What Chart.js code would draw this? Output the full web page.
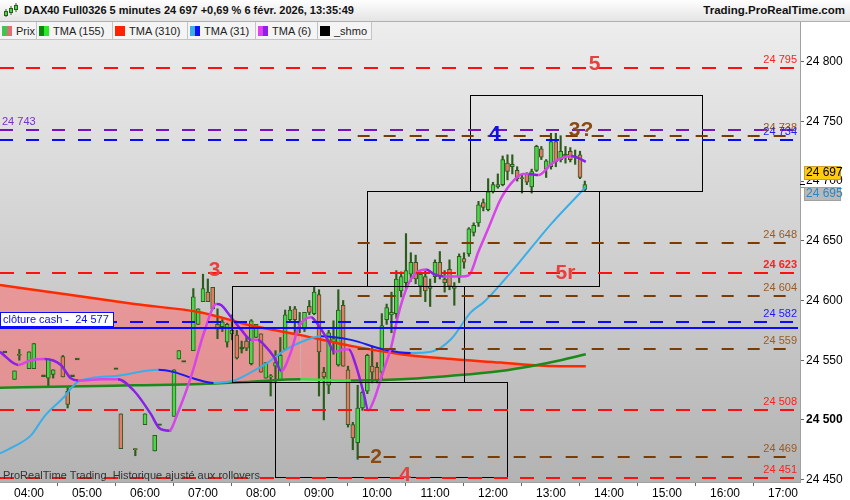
<!DOCTYPE html>
<html lang="fr">
<head>
<meta charset="utf-8">
<title>DAX40 Full0326 5 minutes</title>
<script src="https://cdn.jsdelivr.net/npm/chart.js@4.4.1/dist/chart.umd.min.js"></script>
<style>
  html, body { margin: 0; padding: 0; background: #fff; }
  #wrap { position: relative; width: 850px; height: 500px; overflow: hidden;
          font-family: 'Liberation Sans', Arial, sans-serif; }
  #chart { position: absolute; left: 0; top: 0; }
  #header { position: absolute; left: 0; top: 0; width: 850px; height: 21px;
            background: linear-gradient(#fefefe, #e4e4e4); border-bottom: 1px solid #b0b0b0; }
  #icon { position: absolute; left: 4px; top: 3px; }
  #title { position: absolute; left: 24px; top: 4px; font-size: 11px; font-weight: bold; color: #111; white-space: nowrap; }
  #site { position: absolute; right: 5px; top: 4px; font-size: 11.5px; font-weight: bold; color: #111; }
  #legend { position: absolute; left: 0; top: 22px; height: 18px; display: flex; }
  .item { box-sizing: border-box; height: 18px; border-right: 1px solid #c4c4c4; border-bottom: 1px solid #c4c4c4;
          background: #f4f4f4; font-size: 11px; color: #222; display: flex; align-items: center; white-space: nowrap; }
  .sw { display: inline-flex; width: 10px; height: 10px; margin: 0 4px 0 2px; }
  .sw i { flex: 1; }
  #note { position: absolute; left: 3px; top: 469px; font-size: 11px; color: #333; white-space: nowrap; }
</style>
</head>
<body>
<div id="wrap">
  <canvas id="chart" width="850" height="500"></canvas>
  <div id="header">
    <svg id="icon" width="14" height="15">
      <line x1="2" y1="6" x2="2" y2="14" stroke="#2b5c1c"/><rect x="0.5" y="8.5" width="3" height="4" fill="#49d649" stroke="#2b5c1c"/>
      <line x1="7" y1="3" x2="7" y2="12" stroke="#2b5c1c"/><rect x="5.5" y="5.5" width="3" height="4" fill="#49d649" stroke="#2b5c1c"/>
      <line x1="12" y1="0" x2="12" y2="9" stroke="#2b5c1c"/><rect x="10.5" y="2.5" width="3" height="4" fill="#49d649" stroke="#2b5c1c"/>
    </svg>
    <div id="title">DAX40 Full0326 5 minutes 24 697 +0,69 % 6 févr. 2026, 13:35:49</div>
    <div id="site">Trading.ProRealTime.com</div>
  </div>
  <div id="legend">
    <div class="item" style="width:37px"><span class="sw"><i style="background:#3cc84a"></i><i style="background:#e07070"></i></span>Prix</div>
    <div class="item" style="width:76px"><span class="sw"><i style="background:#0a8a0a"></i><i style="background:#2ee82e"></i></span>TMA (155)</div>
    <div class="item" style="width:75px"><span class="sw"><i style="background:#ff2200"></i><i style="background:#ff2200"></i></span>TMA (310)</div>
    <div class="item" style="width:68px"><span class="sw"><i style="background:#3aaee8"></i><i style="background:#1010ff"></i></span>TMA (31)</div>
    <div class="item" style="width:62px"><span class="sw"><i style="background:#e040f0"></i><i style="background:#9020e8"></i></span>TMA (6)</div>
    <div class="item" style="width:54px"><span class="sw"><i style="background:#000"></i><i style="background:#000"></i></span>_shmo</div>
  </div>
  <div id="note">ProRealTime Trading&nbsp; Historique ajusté aux rollovers</div>
</div>

<script>
// 5 minute candles
const candleTimes = ['03:35', '03:45', '03:50', '04:00', '04:05', '04:15', '04:20', '04:25', '04:35', '04:40',
    '04:45', '04:50', '05:30', '05:35', '05:50', '06:00', '06:10', '06:15', '06:25', '06:30',
    '06:35', '06:40', '06:50', '06:55', '07:00', '07:05', '07:10', '07:15', '07:20', '07:25',
    '07:30', '07:35', '07:40', '07:45', '07:50', '07:55', '08:00', '08:05', '08:10', '08:15',
    '08:20', '08:25', '08:30', '08:35', '08:40', '08:45', '08:50', '08:55', '09:00', '09:05',
    '09:10', '09:15', '09:20', '09:25', '09:30', '09:35', '09:40', '09:45', '09:50', '09:55',
    '10:00', '10:05', '10:10', '10:15', '10:20', '10:25', '10:30', '10:35', '10:40', '10:45',
    '10:50', '10:55', '11:00', '11:05', '11:10', '11:15', '11:20', '11:25', '11:30', '11:35',
    '11:40', '11:45', '11:50', '11:55', '12:00', '12:05', '12:10', '12:15', '12:20', '12:25',
    '12:30', '12:35', '12:40', '12:45', '12:50', '12:55', '13:00', '13:05', '13:10', '13:15',
    '13:20', '13:25', '13:30', '13:35'];
const opens = [24557, 24534, 24555, 24543, 24543, 24537, 24535, 24538, 24553, 24524,
    24537, 24551, 24543, 24505, 24476, 24496, 24474, 24496, 24491, 24503,
    24551, 24549, 24558, 24580, 24599, 24607, 24611, 24580, 24578, 24565,
    24572, 24571, 24560, 24566, 24547, 24569, 24572, 24535, 24536, 24545,
    24533, 24559, 24584, 24593, 24580, 24576, 24595, 24589, 24605, 24540,
    24529, 24565, 24546, 24596, 24542, 24496, 24481, 24510, 24524, 24545,
    24544, 24540, 24584, 24588, 24589, 24608, 24615, 24622, 24632, 24612,
    24620, 24612, 24620, 24632, 24618, 24626, 24612, 24620, 24635, 24639,
    24657, 24665, 24682, 24676, 24691, 24695, 24697, 24715, 24712, 24709,
    24703, 24706, 24695, 24709, 24727, 24710, 24712, 24733, 24718, 24722,
    24725, 24720, 24722, 24693];
const highs = [24557, 24541, 24559, 24557, 24564, 24537, 24551, 24542, 24554, 24527,
    24537, 24551, 24543, 24505, 24476, 24505, 24487, 24496, 24491, 24542,
    24558, 24549, 24610, 24593, 24622, 24618, 24611, 24593, 24584, 24581,
    24588, 24575, 24566, 24570, 24584, 24580, 24572, 24548, 24538, 24558,
    24569, 24592, 24595, 24595, 24590, 24590, 24600, 24611, 24609, 24544,
    24575, 24583, 24609, 24600, 24545, 24498, 24529, 24524, 24555, 24562,
    24548, 24589, 24597, 24607, 24625, 24624, 24656, 24640, 24638, 24624,
    24625, 24618, 24634, 24641, 24625, 24634, 24615, 24639, 24640, 24661,
    24665, 24683, 24685, 24702, 24699, 24706, 24721, 24722, 24722, 24712,
    24706, 24707, 24710, 24730, 24729, 24718, 24740, 24740, 24738, 24729,
    24728, 24726, 24725, 24700];
const lows = [24557, 24534, 24550, 24543, 24543, 24537, 24527, 24535, 24536, 24510,
    24537, 24551, 24543, 24476, 24470, 24496, 24474, 24496, 24491, 24503,
    24551, 24549, 24558, 24580, 24599, 24599, 24593, 24568, 24574, 24561,
    24567, 24551, 24556, 24558, 24546, 24569, 24540, 24535, 24520, 24531,
    24533, 24558, 24582, 24573, 24573, 24574, 24588, 24588, 24520, 24500,
    24522, 24555, 24545, 24545, 24494, 24475, 24467, 24508, 24522, 24531,
    24531, 24533, 24580, 24573, 24585, 24603, 24610, 24616, 24614, 24605,
    24599, 24595, 24615, 24618, 24607, 24609, 24596, 24615, 24627, 24637,
    24654, 24662, 24675, 24675, 24690, 24694, 24696, 24701, 24706, 24700,
    24690, 24697, 24690, 24708, 24718, 24703, 24710, 24712, 24716, 24715,
    24716, 24714, 24702, 24692];
const closes = [24557, 24541, 24554, 24557, 24564, 24537, 24551, 24542, 24536, 24513,
    24537, 24551, 24543, 24476, 24475, 24505, 24487, 24496, 24491, 24542,
    24558, 24549, 24603, 24593, 24610, 24599, 24593, 24576, 24582, 24580,
    24575, 24552, 24560, 24560, 24583, 24580, 24540, 24548, 24537, 24548,
    24554, 24588, 24592, 24584, 24582, 24590, 24590, 24607, 24557, 24536,
    24573, 24568, 24592, 24545, 24496, 24485, 24510, 24523, 24554, 24540,
    24533, 24579, 24594, 24590, 24618, 24620, 24625, 24632, 24618, 24622,
    24608, 24610, 24632, 24620, 24615, 24612, 24610, 24637, 24632, 24660,
    24663, 24680, 24678, 24691, 24697, 24697, 24718, 24708, 24714, 24702,
    24702, 24699, 24708, 24729, 24720, 24717, 24733, 24716, 24725, 24722,
    24718, 24721, 24703, 24697];

// Moving averages TMA (155) and TMA (310), sampled at the same times
const slowTimes = ['03:30', '04:40', '05:49', '06:58', '07:50', '08:41', '09:33', '10:25', '11:17', '12:08', '12:39', '13:10', '13:36'];
const tma155 = [24527, 24528, 24529, 24530, 24532, 24534, 24533, 24534, 24537, 24541, 24545, 24550, 24555];
const tma310 = [24613, 24605, 24597, 24590, 24579, 24571, 24562, 24555, 24551, 24548, 24546, 24545, 24545];

// TMA (31)
const tma31Times = ['03:30', '03:45', '04:02', '04:16', '04:36', '04:49', '05:04', '05:32', '06:14', '06:30', '06:53', '07:11', '07:32', '07:50',
    '08:07', '08:24', '08:41', '09:02', '09:33', '10:07', '10:35', '10:56', '11:17', '11:37', '11:51', '12:19', '13:00', '13:36'];
const tma31 = [24472, 24478, 24487, 24503, 24519, 24531, 24535, 24537, 24542, 24540, 24534, 24531, 24533, 24540,
    24548, 24558, 24565, 24570, 24567, 24559, 24556, 24557, 24568, 24590, 24599, 24624, 24664, 24695];

// TMA (6)
const tma6Times = ['03:30', '03:49', '04:02', '04:16', '04:33', '04:43', '04:51', '05:15', '05:32', '05:49', '06:06', '06:15', '06:25', '06:34',
    '06:48', '07:01', '07:14', '07:19', '07:29', '07:39', '07:50', '07:57', '08:03', '08:14', '08:21', '08:31', '08:39', '08:52',
    '08:57', '09:09', '09:16', '09:26', '09:31', '09:38', '09:46', '09:51', '09:57', '10:07', '10:15', '10:22', '10:32', '10:42',
    '10:51', '10:59', '11:09', '11:27', '11:35', '11:45', '11:55', '12:08', '12:22', '12:31', '12:37', '12:47', '13:00', '13:10',
    '13:21', '13:29', '13:36'];
const tma6 = [24557, 24546, 24550, 24551, 24546, 24535, 24533, 24534, 24534, 24524, 24505, 24493, 24491, 24506,
    24537, 24573, 24597, 24596, 24586, 24576, 24567, 24567, 24563, 24552, 24541, 24557, 24578, 24586,
    24582, 24567, 24557, 24559, 24559, 24546, 24523, 24508, 24517, 24542, 24562, 24588, 24613, 24624,
    24626, 24622, 24620, 24620, 24621, 24641, 24660, 24685, 24701, 24706, 24706, 24705, 24714, 24719,
    24721, 24719, 24716];

// Horizontal levels: value, kind, start time
const levelValues = [24795, 24743, 24738, 24734, 24648, 24623, 24604, 24582, 24577, 24559, 24508, 24469, 24451];
const levelKinds = ['red', 'purple', 'brown', 'blue', 'brown', 'red', 'brown', 'blue', 'cash', 'brown', 'red', 'brown', 'red'];
const levelStarts = ['03:30', '03:30', '09:40', '03:30', '09:40', '03:30', '09:40', '03:30', '03:30', '09:40', '03:30', '09:40', '03:30'];

// Rectangles drawn on the chart
const boxStarts = ['11:36', '09:50', '07:30', '08:15'];
const boxEnds = ['15:36', '13:50', '11:30', '12:15'];
const boxTops = [24772, 24692, 24612, 24532];
const boxBottoms = [24692, 24612, 24532, 24452];

// Wave labels
const waveTexts = ['5', '3', '4', '3?', '5r', '2', '4'];
const waveTimes = ['13:45', '07:12', '12:02', '13:31', '13:15', '09:59', '10:29'];
const wavePrices = [24798, 24625, 24739, 24743, 24623, 24469, 24454];
const waveKinds = ['red', 'red', 'blue', 'brown', 'red', 'brown', 'red'];

// Axes
const hourTicks = ['04:00', '05:00', '06:00', '07:00', '08:00', '09:00', '10:00', '11:00', '12:00', '13:00', '14:00', '15:00', '16:00', '17:00'];
const priceTicks = [24450, 24500, 24550, 24600, 24650, 24700, 24750, 24800];
const lastPrice = 24697;
const lastTma31 = 24695;

const FONT = "'Liberation Sans', Arial, sans-serif";

const levelStyles = {
    red: { line: '#ff1010', text: '#ff2020', dash: [14, 12] },
    brown: { line: '#7a3c00', text: '#9a5a22', dash: [12, 14] },
    blue: { line: '#0a0aff', text: '#1a1aff', dash: [13, 13] },
    purple: { line: '#7a10c8', text: '#7a30c8', dash: [13, 13] },
    cash: { line: '#0a0aff', text: '#0a0aff', dash: [] }
};
const waveColours = { red: '#e8403e', blue: '#1010e0', brown: '#8a4a12' };


function toMinutes(t) {
    const [h, m] = t.split(':').map(Number);
    return h * 60 + m;
}

function formatPrice(v) {
    return String(v).replace(/\B(?=(\d{3})+(?!\d))/g, ' ');
}

function series(times, values) {
    return times.map((t, i) => ({ x: toMinutes(t), y: values[i] }));
}

// Colour a line by slope: one colour rising, another falling
function slopeColour(up, down) {
    return ctx => ctx.p1.parsed.y >= ctx.p0.parsed.y ? up : down;
}


// Grey gradient behind the plot, white elsewhere
const backgroundPlugin = {
    id: 'background',
    beforeDraw(chart) {
        const { ctx, chartArea: a } = chart;
        ctx.save();
        ctx.fillStyle = '#ffffff';
        ctx.fillRect(0, 0, chart.width, chart.height);
        const g = ctx.createLinearGradient(0, a.top, 0, a.bottom);
        g.addColorStop(0, '#ededed');
        g.addColorStop(1, '#b3b3b3');
        ctx.fillStyle = g;
        ctx.fillRect(a.left, a.top, a.right - a.left, a.bottom - a.top);
        ctx.restore();
    }
};

// Levels, boxes and wave labels on top of the series
const drawingsPlugin = {
    id: 'drawings',
    afterDatasetsDraw(chart) {
        const { ctx, chartArea: a } = chart;
        const x = chart.scales.x;
        const y = chart.scales.y;
        ctx.save();
        ctx.beginPath();
        ctx.rect(a.left, a.top, a.right - a.left, a.bottom - a.top);
        ctx.clip();

        // boxes
        ctx.strokeStyle = '#000';
        ctx.lineWidth = 1;
        for (let i = 0; i < boxStarts.length; i++) {
            const x0 = Math.round(x.getPixelForValue(toMinutes(boxStarts[i]))) + 0.5;
            const x1 = Math.round(x.getPixelForValue(toMinutes(boxEnds[i]))) + 0.5;
            const y0 = Math.round(y.getPixelForValue(boxTops[i])) + 0.5;
            const y1 = Math.round(y.getPixelForValue(boxBottoms[i])) + 0.5;
            ctx.strokeRect(x0, y0, x1 - x0, y1 - y0);
        }

        // horizontal levels
        ctx.lineWidth = 2;
        ctx.font = '11px ' + FONT;
        ctx.textBaseline = 'middle';
        for (let i = 0; i < levelValues.length; i++) {
            const st = levelStyles[levelKinds[i]];
            const py = Math.round(y.getPixelForValue(levelValues[i]));
            const px = x.getPixelForValue(toMinutes(levelStarts[i]));
            ctx.strokeStyle = st.line;
            ctx.setLineDash(st.dash);
            ctx.beginPath();
            ctx.moveTo(Math.max(px, a.left), py);
            ctx.lineTo(a.right - 2, py);
            ctx.stroke();
            ctx.setLineDash([]);

            const label = formatPrice(levelValues[i]);
            if (levelKinds[i] === 'purple') {
                ctx.fillStyle = st.text;
                ctx.textAlign = 'left';
                ctx.fillText(label, a.left + 2, py - 8);
            } else if (levelKinds[i] === 'cash') {
                // boxed label at the left edge
                ctx.fillStyle = '#ffffff';
                ctx.fillRect(a.left + 0.5, py - 15.5, 113, 14);
                ctx.strokeStyle = st.line;
                ctx.lineWidth = 1;
                ctx.strokeRect(a.left + 0.5, py - 15.5, 113, 14);
                ctx.lineWidth = 2;
                ctx.fillStyle = st.text;
                ctx.textAlign = 'left';
                ctx.font = '11px ' + FONT;
                ctx.fillText('clôture cash -\u00a0 ' + label, a.left + 3, py - 8);
            } else {
                ctx.fillStyle = st.text;
                ctx.textAlign = 'right';
                ctx.font = (levelValues[i] === 24623 ? 'bold ' : '') + '11px ' + FONT;
                ctx.fillText(label, a.right - 3, py - 8);
                ctx.font = '11px ' + FONT;
            }
        }

        // wave counts
        ctx.font = 'bold 21px ' + FONT;
        ctx.textAlign = 'center';
        ctx.textBaseline = 'middle';
        for (let i = 0; i < waveTexts.length; i++) {
            ctx.fillStyle = waveColours[waveKinds[i]];
            ctx.fillText(waveTexts[i], x.getPixelForValue(toMinutes(waveTimes[i])), y.getPixelForValue(wavePrices[i]));
        }
        ctx.restore();
    },
    afterDraw(chart) {
        const { ctx, chartArea: a } = chart;
        const y = chart.scales.y;
        ctx.save();
        ctx.font = '12px ' + FONT;
        ctx.textBaseline = 'middle';
        ctx.textAlign = 'left';

        // last price tag (shifted up) and TMA (31) tag (shifted down)
        const pyPrice = Math.round(y.getPixelForValue(lastPrice));
        const pyTma = Math.round(y.getPixelForValue(lastTma31));
        ctx.fillStyle = '#000';
        ctx.fillRect(a.right, pyPrice - 1, 5, 1);
        ctx.fillStyle = '#3aaee8';
        ctx.fillRect(a.right, pyTma, 5, 1);

        ctx.fillStyle = '#ffcc10';
        ctx.fillRect(a.right + 4, pyPrice - 19, 37, 14);
        ctx.strokeStyle = '#c8a030';
        ctx.lineWidth = 1;
        ctx.strokeRect(a.right + 4.5, pyPrice - 18.5, 36, 13);
        ctx.fillStyle = '#000';
        ctx.fillText(formatPrice(lastPrice), a.right + 6, pyPrice - 12);

        ctx.fillStyle = '#b9b9b9';
        ctx.fillRect(a.right + 4, pyTma, 37, 14);
        ctx.strokeStyle = '#a0a0a0';
        ctx.strokeRect(a.right + 4.5, pyTma + 0.5, 36, 13);
        ctx.fillStyle = '#2a86c4';
        ctx.fillText(formatPrice(lastTma31), a.right + 6, pyTma + 7);
        ctx.restore();
    }
};


function buildDatasets() {
    const up = '#49d649';
    const down = '#e57a68';
    const dark = '#2b5c1c';

    const wickData = candleTimes.map((t, i) => ({ x: toMinutes(t), y: [lows[i], highs[i]] }));
    const bodyData = candleTimes.map((t, i) => {
        const lo = Math.min(opens[i], closes[i]);
        const hi = Math.max(opens[i], closes[i]);
        // a doji still needs a visible body
        return { x: toMinutes(t), y: hi - lo < 1 ? [lo - 0.7, hi + 0.7] : [lo, hi] };
    });
    const bodyColours = candleTimes.map((t, i) => {
        if (closes[i] === opens[i]) return dark;
        return closes[i] > opens[i] ? up : down;
    });

    const lineBase = { type: 'line', pointRadius: 0, borderWidth: 2.5, cubicInterpolationMode: 'monotone', fill: false };

    return [
        { type: 'bar', label: 'wicks', data: wickData, backgroundColor: dark, barThickness: 1.5, grouped: false, order: 5 },
        {
            type: 'bar', label: 'Prix', data: bodyData, backgroundColor: bodyColours, borderColor: dark,
            borderWidth: 1, borderSkipped: false, barThickness: 4, grouped: false, order: 4
        },
        {
            ...lineBase, label: 'TMA (155)', data: series(slowTimes, tma155), borderColor: '#1a8a1a',
            segment: { borderColor: slopeColour('#1a8a1a', '#3ee03e') }, order: 3
        },
        {
            ...lineBase, label: 'TMA (310)', data: series(slowTimes, tma310), borderColor: '#ff2a00',
            fill: { target: 2, above: 'rgba(255,110,110,0.55)', below: 'rgba(0,0,0,0)' }, order: 3
        },
        {
            ...lineBase, label: 'TMA (31)', data: series(tma31Times, tma31), borderColor: '#3aaee8', borderWidth: 2,
            segment: { borderColor: slopeColour('#3aaee8', '#1a1af0') }, order: 2
        },
        {
            ...lineBase, label: 'TMA (6)', data: series(tma6Times, tma6), borderColor: '#d844e8',
            segment: { borderColor: slopeColour('#d844e8', '#8a20e8') }, order: 1
        }
    ];
}


function chartConfig() {
    return {
        type: 'bar',
        data: { datasets: buildDatasets() },
        options: {
            responsive: false,
            animation: false,
            devicePixelRatio: 1,
            layout: { padding: { top: 22, left: 0, right: 0, bottom: 0 } },
            scales: {
                x: {
                    type: 'linear',
                    min: 210,
                    max: 1037.6,
                    offset: false,
                    afterBuildTicks: scale => { scale.ticks = hourTicks.map(t => ({ value: toMinutes(t) })); },
                    afterFit: scale => { scale.height = 18; },
                    grid: { drawOnChartArea: false, drawTicks: true, tickLength: 4, color: '#666' },
                    border: { color: '#a0a0a0' },
                    ticks: {
                        padding: 0,
                        maxRotation: 0,
                        autoSkip: false,
                        color: '#000',
                        font: { family: FONT, size: 12 },
                        callback: value => String(Math.floor(value / 60)).padStart(2, '0') + ':00'
                    }
                },
                y: {
                    position: 'right',
                    min: 24448,
                    max: 24833.2,
                    afterBuildTicks: scale => { scale.ticks = priceTicks.map(v => ({ value: v })); },
                    afterFit: scale => { scale.width = 50; },
                    grid: { drawOnChartArea: false, drawTicks: true, tickLength: 4, color: '#666' },
                    border: { color: '#a0a0a0' },
                    ticks: {
                        padding: 2,
                        color: '#000',
                        font: ctx => ({ family: FONT, size: 12, weight: ctx.tick && ctx.tick.value === 24500 ? 'bold' : 'normal' }),
                        callback: value => formatPrice(value)
                    }
                }
            },
            plugins: {
                legend: { display: false },
                tooltip: { enabled: false },
                filler: { drawTime: 'beforeDatasetsDraw' }
            }
        },
        plugins: [backgroundPlugin, drawingsPlugin]
    };
}


const canvas = document.getElementById('chart');
new Chart(canvas.getContext('2d'), chartConfig());
</script>
</body>
</html>
